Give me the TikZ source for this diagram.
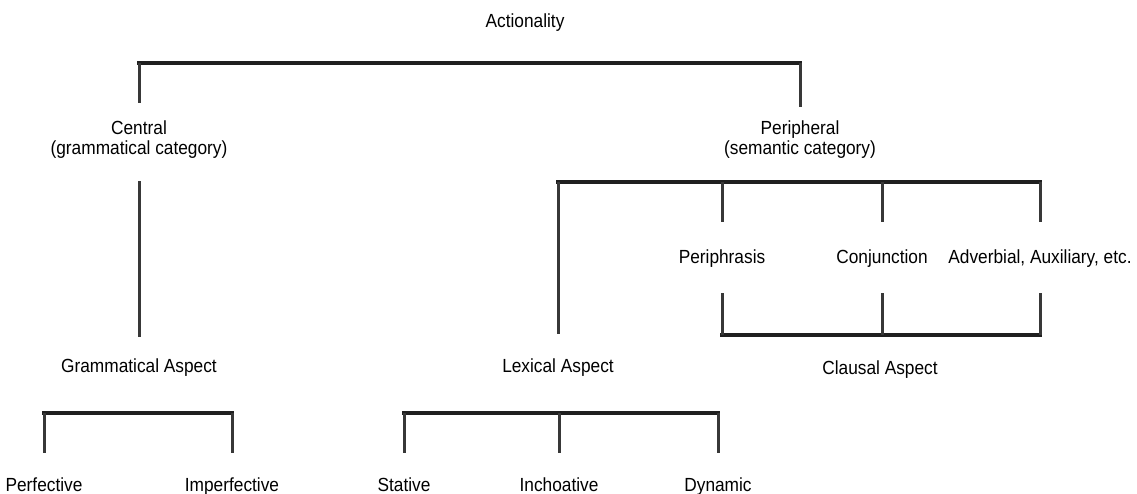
\documentclass[tikz,border=0pt]{standalone}
\usepackage{fontspec}
\setmainfont[FakeStretch=0.91]{Liberation Sans}
\usetikzlibrary{calc}
\tikzset{lbl/.style={inner sep=0pt, align=center, font=\fontsize{19}{20.5}\selectfont},
         bar/.style={line width=4.5pt, draw=black!88, line cap=rect},
         stem/.style={line width=3pt, draw=black!78}}

\begin{document}
\begin{tikzpicture}[x=1pt, y=-1pt]
  \useasboundingbox (0,0) rectangle (1137,493);

  % ---------- labels ----------
  \node[lbl, anchor=base]  (act)  at (525,27)  {Actionality};
  \node[lbl, anchor=north] (cen)  at (139,120.5) {Central\\(grammatical category)};
  \node[lbl, anchor=north] (per)  at (800,120.5) {Peripheral\\(semantic category)};

  \node[lbl, anchor=base]  (phr)  at (722,263)  {Periphrasis};
  \node[lbl, anchor=base]  (conj) at (882,263)  {Conjunction};
  \node[lbl, anchor=base]  (adv)  at (1040,263) {Adverbial, Auxiliary, etc.};

  \node[lbl, anchor=base]  (gram) at (139,372)  {Grammatical Aspect};
  \node[lbl, anchor=base]  (lex)  at (558,372)  {Lexical Aspect};
  \node[lbl, anchor=base]  (cla)  at (880,374)  {Clausal Aspect};

  \node[lbl, anchor=base]  (perf) at (44,491)   {Perfective};
  \node[lbl, anchor=base]  (impf) at (232,491)  {Imperfective};
  \node[lbl, anchor=base]  (stat) at (404,491)  {Stative};
  \node[lbl, anchor=base]  (inch) at (559,491)  {Inchoative};
  \node[lbl, anchor=base]  (dyn)  at (718,491)  {Dynamic};

  % ---------- bar heights ----------
  \coordinate (topbar) at (0,63);
  \coordinate (perbar) at (0,182);
  \coordinate (clabar) at (0,335);
  \coordinate (lowbar) at (0,413);

  % ---------- Actionality -> central / peripheral ----------
  \draw[bar] (cen.north |- topbar) -- (per.north |- topbar);
  \draw[stem, shorten >=17.5pt] (cen.north |- topbar) -- (cen.north);
  \draw[stem, shorten >=13.5pt] (per.north |- topbar) -- (per.north);

  % ---------- central -> grammatical aspect ----------
  \draw[stem, shorten <=22pt, shorten >=21pt] (cen.south) -- (gram.north);

  \draw[bar] (perf.north |- lowbar) -- (impf.north |- lowbar);
  \foreach \n in {perf,impf}
    \draw[stem, shorten >=24.5pt] (\n.north |- lowbar) -- (\n.north);

  % ---------- peripheral -> lexical aspect and the three forms ----------
  \draw[bar] (lex.north |- perbar) -- (adv.north |- perbar);
  \draw[stem, shorten >=24.5pt] (lex.north |- perbar) -- (lex.north);
  \foreach \n in {phr,conj,adv}
    \draw[stem, shorten >=27.5pt] (\n.north |- perbar) -- (\n.north);

  % forms gathered into clausal aspect
  \draw[bar] (phr.south |- clabar) -- (adv.south |- clabar);
  \foreach \n in {phr,conj,adv}
    \draw[stem, shorten <=26pt] (\n.south) -- (\n.south |- clabar);

  % ---------- lexical aspect -> stative / inchoative / dynamic ----------
  \draw[bar] (stat.north |- lowbar) -- (dyn.north |- lowbar);
  \foreach \n in {stat,inch,dyn}
    \draw[stem, shorten >=24.5pt] (\n.north |- lowbar) -- (\n.north);

\end{tikzpicture}
\end{document}
